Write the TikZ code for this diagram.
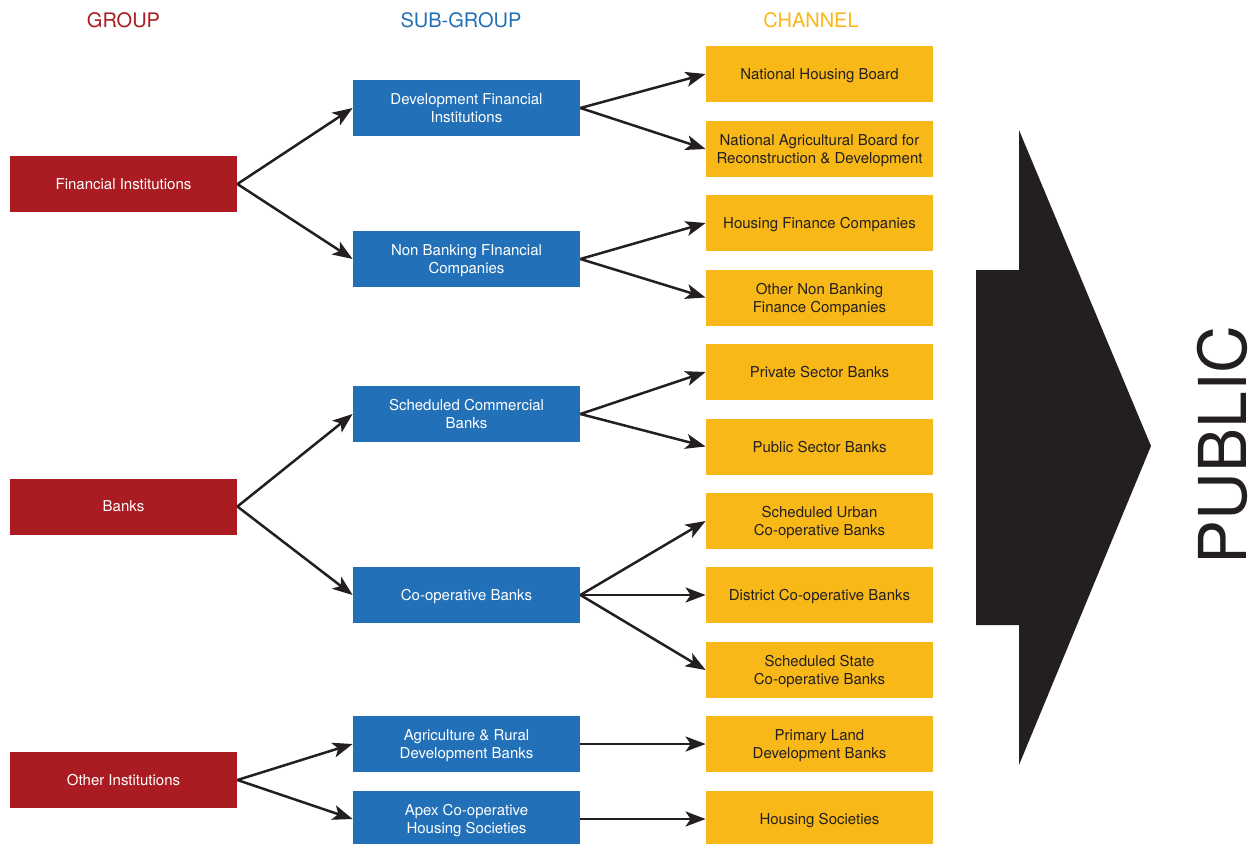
\documentclass[tikz,border=0pt]{standalone}
\usepackage{fontspec}
\setmainfont{TeX Gyre Heros}
\usetikzlibrary{arrows.meta}
\definecolor{cred}{HTML}{AA1C22}
\definecolor{cblue}{HTML}{2270B8}
\definecolor{cyel}{HTML}{F8B918}
\definecolor{cdark}{HTML}{231F20}
\tikzset{
  boxbase/.style={minimum width=113.5pt, minimum height=28pt, inner sep=0pt, align=center,
    text depth=-1.5pt, font=\fontsize{7.5}{9}\selectfont},
  redbox/.style={boxbase, fill=cred, text=white},
  bluebox/.style={boxbase, fill=cblue, text=white},
  yelbox/.style={boxbase, fill=cyel, text=cdark},
  header/.style={font=\fontsize{10}{12}\selectfont},
  conn/.style={draw=cdark, line width=1.25pt, -{Stealth[length=10pt,width=7.5pt,inset=2.5pt]}},
}
\begin{document}
\begin{tikzpicture}[x=0.5pt,y=-0.5pt]
\useasboundingbox (0,0) rectangle (1255,843);
% headers
\node[header, text=cred] (hg) at (123.5,20) {GROUP};
\node[header, text=cblue] (hs) at (461,20) {SUB-GROUP};
\node[header, text=cyel] (hc) at (811,20) {CHANNEL};
% groups
\node[redbox] (g1) at (123.5,184) {Financial Institutions};
\node[redbox] (g2) at (123.5,506.5) {Banks};
\node[redbox] (g3) at (123.5,780) {Other Institutions};
% sub-groups
\node[bluebox] (s1) at (466.5,108) {Development Financial\\Institutions};
\node[bluebox] (s2) at (466.5,259) {Non Banking FInancial\\Companies};
\node[bluebox] (s3) at (466.5,414) {Scheduled Commercial\\Banks};
\node[bluebox] (s4) at (466.5,595) {Co-operative Banks};
\node[bluebox] (s5) at (466.5,744) {Agriculture \& Rural\\Development Banks};
\node[bluebox] (s6) at (466.5,819) {Apex Co-operative\\Housing Societies};
% channels
\node[yelbox] (c1) at (819.5,74) {National Housing Board};
\node[yelbox] (c2) at (819.5,149) {National Agricultural Board for\\Reconstruction \& Development};
\node[yelbox] (c3) at (819.5,223) {Housing Finance Companies};
\node[yelbox] (c4) at (819.5,297.5) {Other Non Banking\\Finance Companies};
\node[yelbox] (c5) at (819.5,372) {Private Sector Banks};
\node[yelbox] (c6) at (819.5,446.5) {Public Sector Banks};
\node[yelbox] (c7) at (819.5,521) {Scheduled Urban\\Co-operative Banks};
\node[yelbox] (c8) at (819.5,595) {District Co-operative Banks};
\node[yelbox] (c9) at (819.5,670) {Scheduled State\\Co-operative Banks};
\node[yelbox] (c10) at (819.5,744) {Primary Land\\Development Banks};
\node[yelbox] (c11) at (819.5,819) {Housing Societies};
% connectors
\draw[conn] (g1.east) -- (s1.west);
\draw[conn] (g1.east) -- (s2.west);
\draw[conn] (g2.east) -- (s3.west);
\draw[conn] (g2.east) -- (s4.west);
\draw[conn] (g3.east) -- (s5.west);
\draw[conn] (g3.east) -- (s6.west);
\draw[conn] (s1.east) -- (c1.west);
\draw[conn] (s1.east) -- (c2.west);
\draw[conn] (s2.east) -- (c3.west);
\draw[conn] (s2.east) -- (c4.west);
\draw[conn] (s3.east) -- (c5.west);
\draw[conn] (s3.east) -- (c6.west);
\draw[conn] (s4.east) -- (c7.west);
\draw[conn] (s4.east) -- (c8.west);
\draw[conn] (s4.east) -- (c9.west);
\draw[conn] (s5.east) -- (c10.west);
\draw[conn] (s6.east) -- (c11.west);
% big arrow
\fill[cdark] (976,270) -- (1019,270) -- (1019,130) -- (1151,446) -- (1019,765) -- (1019,625) -- (976,625) -- cycle;
\node[rotate=90, inner sep=0pt, font=\fontsize{33}{36}\selectfont, text=cdark] (pub) at (1222,445) {PUBLIC};
\end{tikzpicture}
\end{document}
